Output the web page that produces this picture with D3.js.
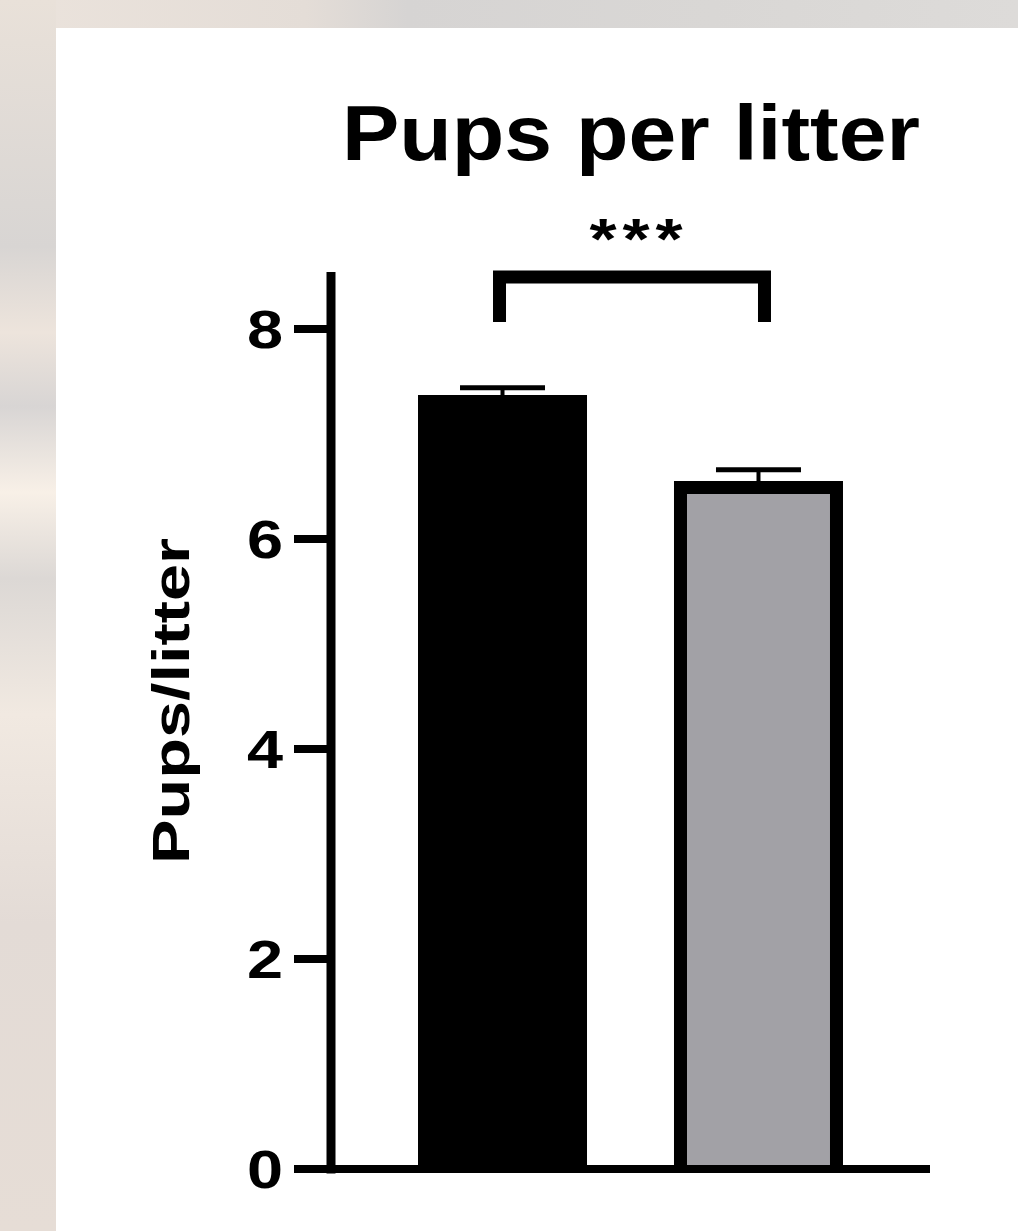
<!DOCTYPE html>
<html>
<head>
<meta charset="utf-8">
<script src="https://cdn.jsdelivr.net/npm/d3@7"></script>
<style>
    body { margin: 0; padding: 0; background: #ffffff; }
    svg { display: block; }
    text { font-family: "Liberation Sans", Arial, sans-serif; font-weight: bold; fill: #000; }
</style>
</head>
<body>
<div id="plot"></div>
<script>
"use strict";

var WIDTH = 1018;
var HEIGHT = 1231;

// Data
var groups = ["Control", "Treated"];
var means = [7.31, 6.49];
var sems = [0.13, 0.17];
var barColors = ["#000000", "#a2a1a6"];
var yTicks = [0, 2, 4, 6, 8];
var title = "Pups per litter";
var yLabel = "Pups/litter";
var significance = "***";

var AXIS_WIDTH = 9;
var BAR_STROKE = 13;
var BAR_WIDTH = 156;
var CAP_WIDTH = 85;
var TEXT_STRETCH = 1.2; // the original font is wider than Arial

var svg = d3.select("#plot").append("svg")
    .attr("width", WIDTH)
    .attr("height", HEIGHT);

// Blurry photo backdrop round the white panel
var defs = svg.append("defs");
var gradTop = defs.append("linearGradient").attr("id", "bgTop");
[["0%", "#ebe3dc"], ["30%", "#e4ddd7"], ["40%", "#d6d4d3"], ["70%", "#d9d7d5"], ["100%", "#dddbd9"]]
    .forEach(function (s) { gradTop.append("stop").attr("offset", s[0]).attr("stop-color", s[1]); });
var gradLeft = defs.append("linearGradient").attr("id", "bgLeft")
    .attr("x1", 0).attr("y1", 0).attr("x2", 0).attr("y2", 1);
[["0%", "#e9e1d9"], ["20%", "#d8d5d3"], ["27%", "#ede4dc"], ["33%", "#d8d5d4"], ["40%", "#f8f0e7"],
 ["47%", "#dcd8d5"], ["58%", "#f1e9e1"], ["75%", "#e3dbd6"], ["100%", "#e6ddd6"]]
    .forEach(function (s) { gradLeft.append("stop").attr("offset", s[0]).attr("stop-color", s[1]); });

svg.append("rect").attr("x", 0).attr("y", 0).attr("width", WIDTH).attr("height", 28).attr("fill", "url(#bgTop)");
svg.append("rect").attr("x", 0).attr("y", 0).attr("width", 56).attr("height", HEIGHT).attr("fill", "url(#bgLeft)");

// Scales
var scaleY = d3.scaleLinear().domain([0, 8.5]).range([1169, 276.5]);
var scaleX = d3.scalePoint().domain(groups).range([331, 930]).padding(0.67);

var plot = svg.append("g");

// Bars
groups.forEach(function (g, i) {
    var cx = scaleX(g);
    var x0 = cx - BAR_WIDTH / 2;
    var x1 = cx + BAR_WIDTH / 2;
    var yTop = scaleY(means[i]);
    var y0 = scaleY(0);

    // Error bar (drawn first so the bar border covers the stem base)
    var yErr = scaleY(means[i] + sems[i]);
    plot.append("path")
        .attr("d", "M" + cx + "," + yTop + "L" + cx + "," + yErr)
        .attr("stroke", "#000").attr("stroke-width", 4);
    plot.append("path")
        .attr("d", "M" + (cx - CAP_WIDTH / 2) + "," + yErr + "L" + (cx + CAP_WIDTH / 2) + "," + yErr)
        .attr("stroke", "#000").attr("stroke-width", 5);

    plot.append("rect")
        .attr("x", x0).attr("y", yTop)
        .attr("width", BAR_WIDTH).attr("height", y0 - yTop)
        .attr("fill", barColors[i]);
    plot.append("path")
        .attr("d", "M" + x0 + "," + y0 + "L" + x0 + "," + yTop + "L" + x1 + "," + yTop + "L" + x1 + "," + y0)
        .attr("fill", "none")
        .attr("stroke", "#000")
        .attr("stroke-width", BAR_STROKE)
        .attr("stroke-linejoin", "miter");
});

// Y axis
var axisX = 331;
plot.append("path")
    .attr("d", "M" + axisX + "," + scaleY(8.5) + "L" + axisX + "," + scaleY(0))
    .attr("stroke", "#000").attr("stroke-width", AXIS_WIDTH).attr("stroke-linecap", "square");

yTicks.forEach(function (t) {
    plot.append("path")
        .attr("d", "M" + (axisX - 37) + "," + scaleY(t) + "L" + axisX + "," + scaleY(t))
        .attr("stroke", "#000").attr("stroke-width", 8);
    plot.append("text")
        .text(t)
        .attr("transform", "translate(" + (axisX - 48) + "," + scaleY(t) + ") scale(" + TEXT_STRETCH + ",1)")
        .attr("dy", "0.36em")
        .attr("text-anchor", "end")
        .style("font-size", "54px");
});

// X axis baseline
plot.append("path")
    .attr("d", "M" + axisX + "," + scaleY(0) + "L" + 930 + "," + scaleY(0))
    .attr("stroke", "#000").attr("stroke-width", 8);

// Significance bracket
var bx0 = scaleX(groups[0]) - 3;
var bx1 = scaleX(groups[1]) + 6;
plot.append("path")
    .attr("d", "M" + bx0 + ",322L" + bx0 + ",277L" + bx1 + ",277L" + bx1 + ",322")
    .attr("fill", "none").attr("stroke", "#000").attr("stroke-width", 13)
    .attr("stroke-linejoin", "miter");
plot.append("text")
    .text(significance)
    .attr("transform", "translate(" + ((bx0 + bx1) / 2 + 7) + ",259) scale(1.2,1)")
    .attr("text-anchor", "middle")
    .style("font-size", "58px")
    .style("letter-spacing", "5px");

// Title
svg.append("text")
    .text(title)
    .attr("x", 631)
    .attr("y", 160)
    .attr("text-anchor", "middle")
    .attr("textLength", 578)
    .attr("lengthAdjust", "spacingAndGlyphs")
    .style("font-size", "77px");

// Y label
svg.append("text")
    .text(yLabel)
    .attr("transform", "translate(189,701) rotate(-90)")
    .attr("text-anchor", "middle")
    .attr("textLength", 326)
    .attr("lengthAdjust", "spacingAndGlyphs")
    .style("font-size", "52px");
</script>
</body>
</html>
